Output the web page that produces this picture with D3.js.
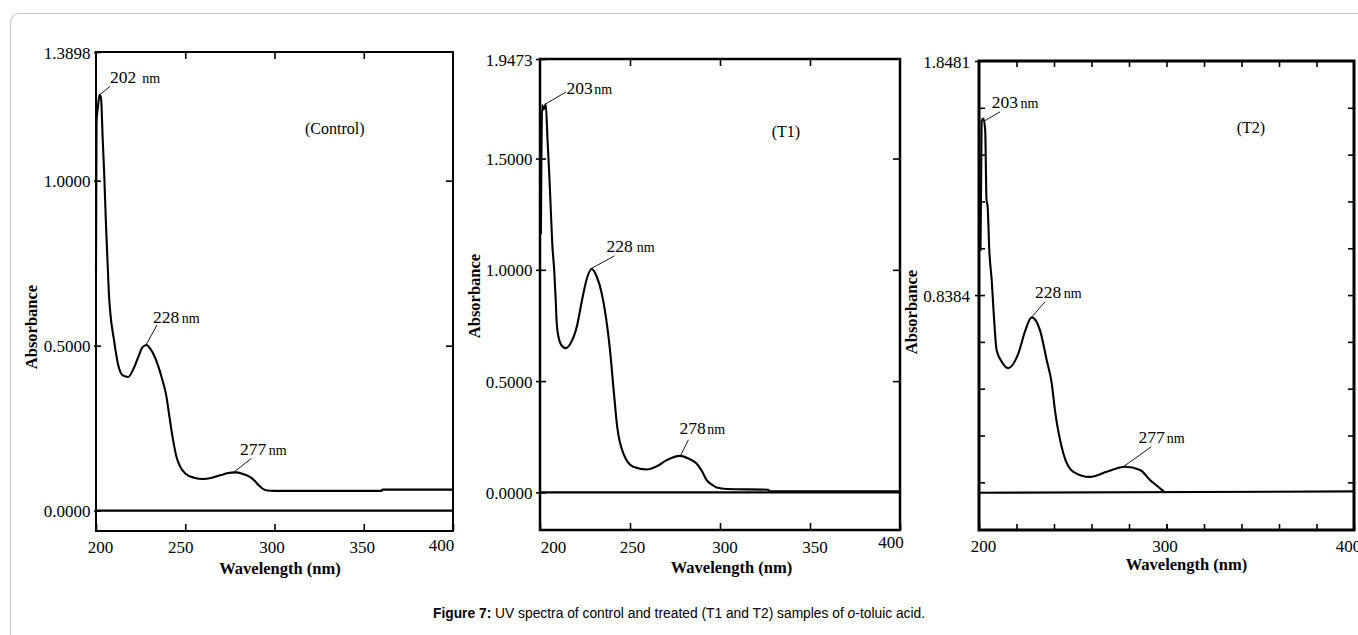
<!DOCTYPE html>
<html>
<head>
<meta charset="utf-8">
<script src="https://cdn.jsdelivr.net/npm/d3@7"></script>
<style>
  body { margin: 0; background: #fff; }
  svg { display: block; }
</style>
</head>
<body>
<svg id="chart" width="1358" height="635"></svg>
<script>
// ---------------- DATA ----------------
const controlWavelength = [200, 200.3, 201, 202, 202.8, 203.8, 204.6, 205.5, 206.5, 207.2, 208, 210, 212.5, 215, 218, 221, 224, 226, 228.3, 230.5, 233, 235, 237, 239.5, 241, 243, 245, 247, 250, 255, 260, 265, 270, 274, 278, 282, 286, 289, 291, 293, 296, 300, 360, 360.5, 400];
const controlAbsorbance = [0.72, 1.18, 1.22, 1.26, 1.25, 1.12, 1.02, 0.88, 0.75, 0.66, 0.60, 0.52, 0.44, 0.41, 0.405, 0.43, 0.47, 0.495, 0.502, 0.49, 0.465, 0.436, 0.40, 0.345, 0.29, 0.22, 0.165, 0.135, 0.113, 0.10, 0.096, 0.10, 0.108, 0.114, 0.116, 0.112, 0.103, 0.09, 0.078, 0.068, 0.061, 0.06, 0.06, 0.064, 0.064];

const t1Wavelength = [200.5, 201.2, 202, 203.2, 204.2, 205.2, 206.1, 206.8, 207.9, 208.7, 209.3, 210.5, 212, 214.4, 217, 220.4, 223.5, 226, 228.7, 231.5, 234.3, 236, 238.9, 241.1, 242.9, 246.3, 251.8, 259.3, 265, 270.4, 277.8, 283, 287, 290, 292.6, 295.5, 298.2, 303.7, 326.8, 327.5, 400];
const t1Absorbance = [1.16, 1.74, 1.72, 1.745, 1.58, 1.42, 1.25, 1.12, 0.997, 0.87, 0.76, 0.69, 0.66, 0.648, 0.67, 0.743, 0.87, 0.96, 1.004, 0.97, 0.894, 0.82, 0.638, 0.444, 0.294, 0.175, 0.115, 0.103, 0.118, 0.145, 0.164, 0.15, 0.13, 0.095, 0.055, 0.035, 0.022, 0.015, 0.012, 0.005, 0.005];

const t2Wavelength = [200.8, 201.4, 202.3, 203.3, 204, 204.6, 205.5, 206.8, 208, 209.4, 212.1, 215.6, 221, 224.5, 228.1, 232.5, 236.1, 238.8, 240.5, 245, 250.3, 259.2, 268.1, 277.9, 285.9, 291.2, 296.5, 299];
const t2Absorbance = [1.03, 1.59, 1.60, 1.55, 1.25, 1.22, 1.03, 0.90, 0.74, 0.60, 0.551, 0.523, 0.587, 0.681, 0.742, 0.687, 0.558, 0.457, 0.342, 0.155, 0.076, 0.054, 0.076, 0.098, 0.084, 0.041, 0.005, -0.012];

const controlBaselineWavelength = [200, 400];
const controlBaselineAbsorbance = [0, 0];
const t1BaselineWavelength = [200, 400];
const t1BaselineAbsorbance = [0, 0];
const t2BaselineWavelength = [200, 400];
const t2BaselineAbsorbance = [-0.0143, -0.0088];

const controlXTicks = [200, 250, 300, 350, 400];
const controlXTickLabels = ["200", "250", "300", "350", "400"];
const controlYTicks = [0, 0.5, 1.0, 1.3898];
const controlYTickLabels = ["0.0000", "0.5000", "1.0000", "1.3898"];

const t1XTicks = [200, 250, 300, 350, 400];
const t1XTickLabels = ["200", "250", "300", "350", "400"];
const t1YTicks = [0, 0.5, 1.0, 1.5, 1.9473];
const t1YTickLabels = ["0.0000", "0.5000", "1.0000", "1.5000", "1.9473"];

const t2XTicks = [200, 300, 400];
const t2XTickLabels = ["200", "300", "400"];
const t2YTicks = [0.8384, 1.8481];
const t2YTickLabels = ["0.8384", "1.8481"];
const t2MinorXTicks = [220, 240, 260, 280, 300, 320, 340, 360, 380];
const t2MinorYTicks = [1.6462, 1.4442, 1.2423, 1.0403, 0.8384, 0.6365, 0.4345, 0.2326, 0.0307];

const controlPeakWavelength = [202, 228, 277];
const controlPeakAbsorbance = [1.26, 0.502, 0.116];
const t1PeakWavelength = [203, 228, 278];
const t1PeakAbsorbance = [1.745, 1.004, 0.164];
const t2PeakWavelength = [203, 228, 277];
const t2PeakAbsorbance = [1.59, 0.742, 0.098];

const panelTitles = ["(Control)", "(T1)", "(T2)"];
const xAxisTitle = "Wavelength (nm)";
const yAxisTitle = "Absorbance";

// ---------------- DRAWING ----------------
const SERIF = '"Liberation Serif", "Times New Roman", Times, serif';
const SANS = '"Liberation Sans", Arial, Helvetica, sans-serif';
const svg = d3.select('#chart');

// outer figure frame
svg.append('rect')
  .attr('x', 10.5).attr('y', 13.5).attr('width', 1400).attr('height', 700)
  .attr('rx', 9).attr('fill', 'none').attr('stroke', '#c8c8c8').attr('stroke-width', 1.2);

function drawPanel(p) {
  const x = d3.scaleLinear().domain([200, 400]).range([p.left, p.right]);
  const y = d3.scaleLinear().domain(p.yDomain).range([p.bottom, p.top]);
  const g = svg.append('g');

  const styleAxis = sel => {
    sel.select('.domain').remove();
    sel.attr('font-family', SERIF).attr('font-size', 17);
    sel.selectAll('line').attr('stroke', '#000').attr('stroke-width', 1.6);
    sel.selectAll('text').attr('fill', '#000');
  };

  // bottom axis with labels
  const bAxis = g.append('g').attr('transform', `translate(0,${p.bottom})`)
    .call(d3.axisBottom(x).tickValues(p.xTicks).tickSize(-p.tickLen)
      .tickFormat((d, i) => p.xTickLabels[i]));
  styleAxis(bAxis);
  bAxis.selectAll('text')
    .attr('y', (d, i) => p.xLabelBaseline - p.bottom + p.xLabelDy[i])
    .attr('dy', 0)
    .attr('dx', (d, i) => p.xLabelDx[i]);

  // top axis (ticks only)
  const tAxis = g.append('g').attr('transform', `translate(0,${p.top})`)
    .call(d3.axisTop(x).tickValues(p.topTicks).tickSize(-p.tickLen).tickFormat(() => ''));
  styleAxis(tAxis);

  // extra bottom minor ticks
  if (p.bottomMinor) {
    const bm = g.append('g').attr('transform', `translate(0,${p.bottom})`)
      .call(d3.axisBottom(x).tickValues(p.bottomMinor).tickSize(-p.minorLen).tickFormat(() => ''));
    styleAxis(bm);
  }

  // left axis with labels
  const lAxis = g.append('g').attr('transform', `translate(${p.left},0)`)
    .call(d3.axisLeft(y).tickValues(p.yTicks).tickSize(0).tickPadding(p.yLabelPad)
      .tickFormat((d, i) => p.yTickLabels[i]));
  styleAxis(lAxis);
  lAxis.selectAll('line').attr('x1', -p.leftTickOut).attr('x2', p.leftTickIn);
  lAxis.selectAll('text').attr('dy', '0.36em');

  // left minor ticks
  if (p.leftMinor) {
    const lm = g.append('g').attr('transform', `translate(${p.left},0)`)
      .call(d3.axisLeft(y).tickValues(p.leftMinor).tickSize(-p.minorLen).tickFormat(() => ''));
    styleAxis(lm);
  }

  // right axis (ticks only)
  const rAxis = g.append('g').attr('transform', `translate(${p.right},0)`)
    .call(d3.axisRight(y).tickValues(p.rightTicks).tickSize(-p.tickLen).tickFormat(() => ''));
  styleAxis(rAxis);

  // frame
  g.append('rect')
    .attr('x', p.left).attr('y', p.top)
    .attr('width', p.right - p.left).attr('height', p.bottom - p.top)
    .attr('fill', 'none').attr('stroke', '#000').attr('stroke-width', p.frameWidth);

  // baseline
  const line = d3.line().x(d => x(d[0])).y(d => y(d[1]));
  g.append('path').datum(d3.zip(p.baseWl, p.baseAbs))
    .attr('d', line).attr('fill', 'none').attr('stroke', '#000').attr('stroke-width', 2.2);

  // spectrum
  const curve = d3.line().x(d => x(d[0])).y(d => y(d[1])).curve(d3.curveMonotoneX);
  g.append('path').datum(d3.zip(p.wl, p.abs))
    .attr('d', curve).attr('fill', 'none').attr('stroke', '#000')
    .attr('stroke-width', 2.1).attr('stroke-linejoin', 'round');

  // peak annotations
  p.peakWl.forEach((wl, i) => {
    const px = x(wl), py = y(p.peakAbs[i]);
    g.append('line')
      .attr('x1', px).attr('y1', py)
      .attr('x2', px + p.leader[i][0]).attr('y2', py + p.leader[i][1])
      .attr('stroke', '#000').attr('stroke-width', 0.9);
    const t = g.append('text')
      .attr('x', px + p.textOff[i][0]).attr('y', py + p.textOff[i][1])
      .attr('font-family', SERIF).attr('fill', '#000');
    t.append('tspan').attr('font-size', 17.5).text(String(wl));
    t.append('tspan').attr('font-size', 14).attr('dx', p.nmGap[i]).text(' nm');
  });

  // panel title
  g.append('text').attr('x', p.titlePos[0]).attr('y', p.titlePos[1])
    .attr('font-family', SERIF).attr('font-size', 16).attr('fill', '#000')
    .text(p.title);

  // axis titles
  g.append('text').attr('x', p.xTitlePos[0]).attr('y', p.xTitlePos[1])
    .attr('text-anchor', 'middle').attr('font-family', SERIF)
    .attr('font-weight', 'bold').attr('font-size', 16.5).attr('fill', '#000')
    .text(xAxisTitle);
  g.append('text')
    .attr('transform', `translate(${p.yTitlePos[0]},${p.yTitlePos[1]}) rotate(-90)`)
    .attr('text-anchor', 'middle').attr('font-family', SERIF)
    .attr('font-weight', 'bold').attr('font-size', 16.5).attr('fill', '#000')
    .text(yAxisTitle);
}

drawPanel({
  left: 96, right: 453, top: 52, bottom: 531,
  yDomain: [-0.0615, 1.3898], frameWidth: 2, tickLen: 7,
  wl: controlWavelength, abs: controlAbsorbance,
  baseWl: controlBaselineWavelength, baseAbs: controlBaselineAbsorbance,
  xTicks: controlXTicks, xTickLabels: controlXTickLabels,
  xLabelDx: [4, -5, -3, -2, -12], xLabelDy: [0, 0, 0, 0, -2], xLabelBaseline: 553,
  topTicks: [250, 300, 350],
  yTicks: controlYTicks, yTickLabels: controlYTickLabels,
  yLabelPad: 5.5, leftTickOut: 2, leftTickIn: 5,
  rightTicks: [0.5, 1.0],
  peakWl: controlPeakWavelength, peakAbs: controlPeakAbsorbance,
  leader: [[10.4, -8.4], [11, -20], [18, -14]],
  textOff: [[10.4, -11.7], [7, -21.7], [6.5, -17.5]],
  nmGap: [2.5, -1, -1],
  title: panelTitles[0], titlePos: [305, 134],
  xTitlePos: [280, 574], yTitlePos: [37, 327]
});

drawPanel({
  left: 540, right: 900, top: 59, bottom: 530,
  yDomain: [-0.169, 1.9473], frameWidth: 2.5, tickLen: 7,
  wl: t1Wavelength, abs: t1Absorbance,
  baseWl: t1BaselineWavelength, baseAbs: t1BaselineAbsorbance,
  xTicks: t1XTicks, xTickLabels: t1XTickLabels,
  xLabelDx: [13, 2, 4.5, 4.5, -9.5], xLabelDy: [0, 0, 0, 0, -5], xLabelBaseline: 553,
  topTicks: [250, 300, 350],
  yTicks: t1YTicks, yTickLabels: t1YTickLabels,
  yLabelPad: 7.5, leftTickOut: 4, leftTickIn: 6,
  rightTicks: [0.5, 1.0, 1.5],
  peakWl: t1PeakWavelength, peakAbs: t1PeakAbsorbance,
  leader: [[20.6, -12], [24, -13], [8, -16]],
  textOff: [[21, -10], [16, -17], [-1, -22]],
  nmGap: [-2, 0.5, -2],
  title: panelTitles[1], titlePos: [771.7, 137],
  xTitlePos: [731.5, 573], yTitlePos: [480, 296]
});

drawPanel({
  left: 979, right: 1354, top: 61, bottom: 530,
  yDomain: [-0.175, 1.8481], frameWidth: 3, tickLen: 6, minorLen: 6,
  wl: t2Wavelength, abs: t2Absorbance,
  baseWl: t2BaselineWavelength, baseAbs: t2BaselineAbsorbance,
  xTicks: t2XTicks, xTickLabels: t2XTickLabels,
  xLabelDx: [4, -2, -6], xLabelDy: [0, 0, 0], xLabelBaseline: 552,
  topTicks: t2MinorXTicks, bottomMinor: t2MinorXTicks,
  yTicks: t2YTicks, yTickLabels: t2YTickLabels,
  yLabelPad: 9, leftTickOut: 4, leftTickIn: 0,
  leftMinor: t2MinorYTicks,
  rightTicks: t2MinorYTicks,
  peakWl: t2PeakWavelength, peakAbs: t2PeakAbsorbance,
  leader: [[15.4, -9], [13.5, -15.7], [28, -20]],
  textOff: [[7, -13], [3.5, -19], [15, -23.4]],
  nmGap: [-1, -1, -1.5],
  title: panelTitles[2], titlePos: [1236.7, 133],
  xTitlePos: [1186.5, 570], yTitlePos: [917, 312]
});

// caption
const cap = svg.append('text').attr('x', 433).attr('y', 618)
  .attr('font-family', SANS).attr('font-size', 13.8).attr('fill', '#000');
cap.append('tspan').attr('font-weight', 'bold').text('Figure 7:');
cap.append('tspan').text(' UV spectra of control and treated (T1 and T2) samples of ');
cap.append('tspan').attr('font-style', 'italic').text('o');
cap.append('tspan').text('-toluic acid.');
</script>
</body>
</html>
